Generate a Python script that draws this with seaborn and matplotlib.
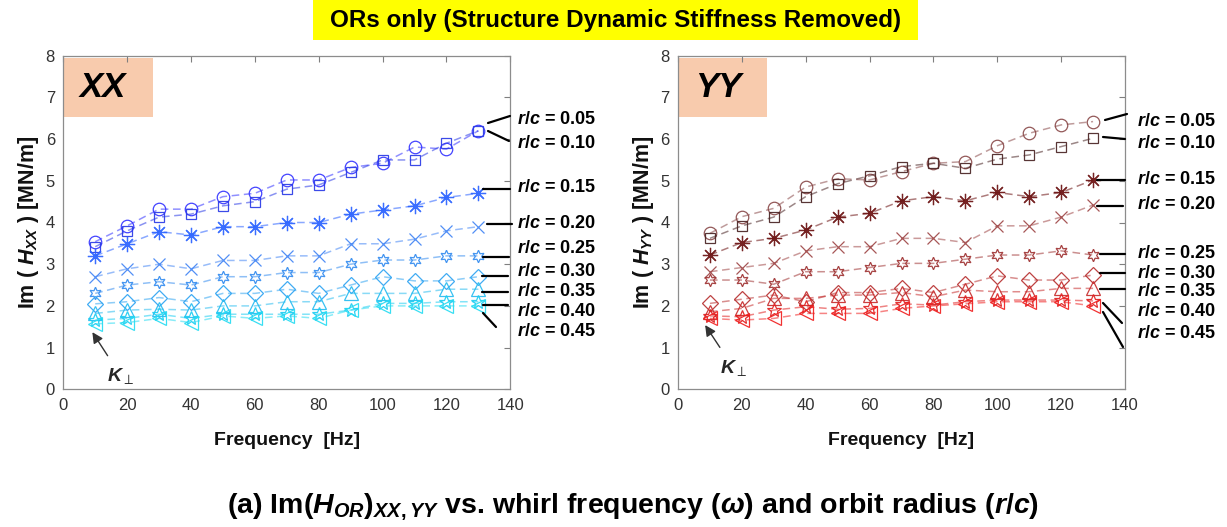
import matplotlib
matplotlib.use("Agg")
import matplotlib.pyplot as plt
import seaborn as sns
import numpy as np
import pandas as pd
from matplotlib.patches import Rectangle
from matplotlib.lines import Line2D

# ---------------- data ----------------
freq = [10, 20, 30, 40, 50, 60, 70, 80, 90, 100, 110, 120, 130]
rc_labels = ["0.05", "0.10", "0.15", "0.20", "0.25", "0.30", "0.35", "0.40", "0.45"]

xx_005 = [3.54, 3.92, 4.32, 4.32, 4.62, 4.70, 5.02, 5.02, 5.32, 5.42, 5.81, 5.76, 6.20]
xx_010 = [3.42, 3.80, 4.13, 4.20, 4.40, 4.50, 4.80, 4.90, 5.20, 5.50, 5.50, 5.90, 6.20]
xx_015 = [3.20, 3.49, 3.78, 3.70, 3.90, 3.90, 4.00, 4.00, 4.20, 4.30, 4.40, 4.60, 4.70]
xx_020 = [2.70, 2.89, 3.00, 2.89, 3.09, 3.09, 3.20, 3.20, 3.49, 3.49, 3.60, 3.80, 3.90]
xx_025 = [2.30, 2.50, 2.58, 2.50, 2.70, 2.70, 2.80, 2.80, 3.00, 3.10, 3.10, 3.20, 3.20]
xx_030 = [2.05, 2.10, 2.20, 2.10, 2.30, 2.30, 2.40, 2.30, 2.50, 2.70, 2.60, 2.60, 2.70]
xx_035 = [1.82, 1.90, 1.92, 1.90, 2.00, 2.00, 2.10, 2.10, 2.30, 2.30, 2.30, 2.40, 2.40]
xx_040 = [1.66, 1.70, 1.80, 1.70, 1.80, 1.80, 1.80, 1.80, 1.90, 2.06, 2.06, 2.10, 2.10]
xx_045 = [1.57, 1.60, 1.70, 1.60, 1.76, 1.70, 1.76, 1.70, 1.90, 2.00, 2.00, 2.00, 2.00]

yy_005 = [3.74, 4.14, 4.34, 4.85, 5.05, 5.02, 5.22, 5.42, 5.46, 5.84, 6.14, 6.34, 6.42]
yy_010 = [3.62, 3.92, 4.13, 4.62, 4.93, 5.12, 5.34, 5.42, 5.30, 5.52, 5.62, 5.82, 6.02]
yy_015 = [3.22, 3.52, 3.62, 3.82, 4.13, 4.22, 4.52, 4.62, 4.52, 4.72, 4.62, 4.72, 5.02]
yy_020 = [2.82, 2.92, 3.02, 3.32, 3.42, 3.42, 3.62, 3.62, 3.52, 3.92, 3.92, 4.13, 4.42]
yy_025 = [2.62, 2.62, 2.52, 2.82, 2.82, 2.92, 3.02, 3.02, 3.12, 3.22, 3.22, 3.32, 3.22]
yy_030 = [2.06, 2.16, 2.26, 2.10, 2.32, 2.32, 2.42, 2.32, 2.52, 2.72, 2.62, 2.62, 2.74]
yy_035 = [1.86, 1.94, 2.18, 2.18, 2.26, 2.26, 2.32, 2.22, 2.38, 2.34, 2.34, 2.42, 2.42]
yy_040 = [1.76, 1.74, 1.90, 1.98, 1.92, 1.94, 2.05, 2.02, 2.10, 2.14, 2.14, 2.14, 2.12]
yy_045 = [1.70, 1.66, 1.70, 1.82, 1.82, 1.82, 1.94, 2.00, 2.05, 2.10, 2.10, 2.10, 2.00]

xx_series = [xx_005, xx_010, xx_015, xx_020, xx_025, xx_030, xx_035, xx_040, xx_045]
yy_series = [yy_005, yy_010, yy_015, yy_020, yy_025, yy_030, yy_035, yy_040, yy_045]

xx_colors = ["#3434ff", "#2a3ae6", "#2a62ff", "#4486f5", "#348cf0", "#30a4f2",
             "#28bcf0", "#1ccdf2", "#28dcf2"]
yy_colors = ["#8a4a4a", "#4a2424", "#6a1010", "#a04848", "#a03434", "#b83232",
             "#c82e2e", "#e02020", "#f02020"]

markers = ["o", "s", (8, 2, 0), "x", (6, 1, 0), "D", "^", "*", "<"]
msizes = [9, 6.5, 11, 8, 9, 8.5, 10.5, 10, 10.5]

xticks = [0, 20, 40, 60, 80, 100, 120, 140]
yticks = [0, 1, 2, 3, 4, 5, 6, 7, 8]

# ---------------- style ----------------
sns.set_theme(style="white")
plt.rcParams["font.family"] = ["Liberation Sans", "DejaVu Sans"]
plt.rcParams["mathtext.fontset"] = "custom"
plt.rcParams["mathtext.rm"] = "Liberation Sans:bold"
plt.rcParams["mathtext.it"] = "Liberation Sans:italic:bold"
plt.rcParams["mathtext.bf"] = "Liberation Sans:bold"

W, H = 1227, 527
fig = plt.figure(figsize=(W / 100, H / 100), dpi=100)

def fx(px):
    return px / W

def fy(py):
    return 1 - py / H

axL = fig.add_axes([fx(63.3), fy(389.3), 447 / W, 333.6 / H])
axR = fig.add_axes([fx(678), fy(389.3), 447 / W, 333.6 / H])


def draw(ax, series, colors, name, ylabel):
    for vals, col, mk, ms in zip(series, colors, markers, msizes):
        rgb = matplotlib.colors.to_rgb(col)
        df = pd.DataFrame({"f": freq, "v": vals})
        sns.lineplot(data=df, x="f", y="v", ax=ax, color=rgb + (0.55,),
                     linestyle=(0, (5, 3)), linewidth=1.1, marker=mk,
                     markersize=ms, markerfacecolor="none",
                     markeredgecolor=rgb + (0.92,), markeredgewidth=0.9,
                     legend=False)
    ax.set_xlim(0, 140)
    ax.set_ylim(0, 8)
    ax.set_xticks(xticks)
    ax.set_yticks(yticks)
    ax.tick_params(direction="in", length=4, width=0.8, colors="#7f7f7f",
                   labelcolor="#333333", labelsize=12, top=True, right=True,
                   pad=6)
    for s in ax.spines.values():
        s.set_color("#8c8c8c")
        s.set_linewidth(0.9)
    ax.set_xlabel("Frequency  [Hz]", fontsize=14, fontweight="bold",
                  color="#111111", labelpad=14)
    ax.set_ylabel(ylabel, fontsize=15.5, fontweight="bold", color="#111111",
                  labelpad=3)
    ax.add_patch(Rectangle((0.002, 0.817), 0.198, 0.175,
                           transform=ax.transAxes, facecolor="#f8cbad",
                           edgecolor="none", zorder=0.5))
    ax.text(0.089, 0.905, name, transform=ax.transAxes, fontsize=25,
            fontweight="bold", fontstyle="italic", ha="center", va="center",
            color="black")


draw(axL, xx_series, xx_colors, "XX", r"Im ( $H_{XX}$ ) [MN/m]")
draw(axR, yy_series, yy_colors, "YY", r"Im ( $H_{YY}$ ) [MN/m]")

# K_perp annotations
for ax, tip, txt in [(axL, (9.1, 1.37), (18.0, 0.32)),
                     (axR, (8.5, 1.54), (17.3, 0.52))]:
    ax.annotate(r"$K_{\perp}$", xy=tip, xytext=txt, fontsize=14,
                ha="center", va="center",
                arrowprops=dict(arrowstyle="-|>", color="#333333", lw=1.0,
                                mutation_scale=16, shrinkA=6, shrinkB=0))

# r/c labels with leader lines (figure pixel positions)
left_labels_y = [120, 143, 187, 223, 249, 272, 291, 312, 332]
left_lines = [((488, 123), (510, 116)), ((488, 131), (509, 141)),
              ((483, 189), (510, 189)), ((487, 224), (512, 224)),
              ((483, 257), (509, 257)), ((482, 276), (508, 276)),
              ((482, 292), (508, 292)), ((483, 305), (508, 305)),
              ((483, 313), (496, 327))]
right_labels_y = [121, 143, 180, 205, 253, 273, 292, 312, 333]
right_lines = [((1105, 120), (1127, 114)), ((1103, 137), (1125, 139)),
               ((1097, 180), (1125, 180)), ((1097, 206), (1123, 206)),
               ((1100, 254), (1125, 254)), ((1100, 273), (1125, 273)),
               ((1100, 289), (1125, 289)), ((1103, 303), (1122, 323)),
               ((1103, 312), (1123, 347))]

for x0, ys, lines in [(517, left_labels_y, left_lines),
                      (1137, right_labels_y, right_lines)]:
    for lab, y in zip(rc_labels, ys):
        fig.text(fx(x0), fy(y), r"$r/c$ = " + lab, fontsize=13,
                 fontweight="bold", ha="left", va="center", color="black")
    for (a, b) in lines:
        fig.add_artist(Line2D([fx(a[0]), fx(b[0])], [fy(a[1]), fy(b[1])],
                              color="black", lw=1.6))

# top banner
fig.add_artist(Rectangle((fx(313), fy(40)), (918 - 313) / W, 40 / H,
                         facecolor="#ffff00", edgecolor="none"))
fig.text(fx(615.5), fy(20), "ORs only (Structure Dynamic Stiffness Removed)",
         fontsize=17.5, fontweight="bold", ha="center", va="center",
         color="black")

# bottom caption
fig.text(fx(633), fy(506),
         r"(a) Im($H_{OR}$)$_{XX,YY}$ vs. whirl frequency ($\omega$) and orbit radius ($r/c$)",
         fontsize=20.5, fontweight="bold", ha="center", va="center",
         color="black")

fig.savefig("out.png", dpi=100)
